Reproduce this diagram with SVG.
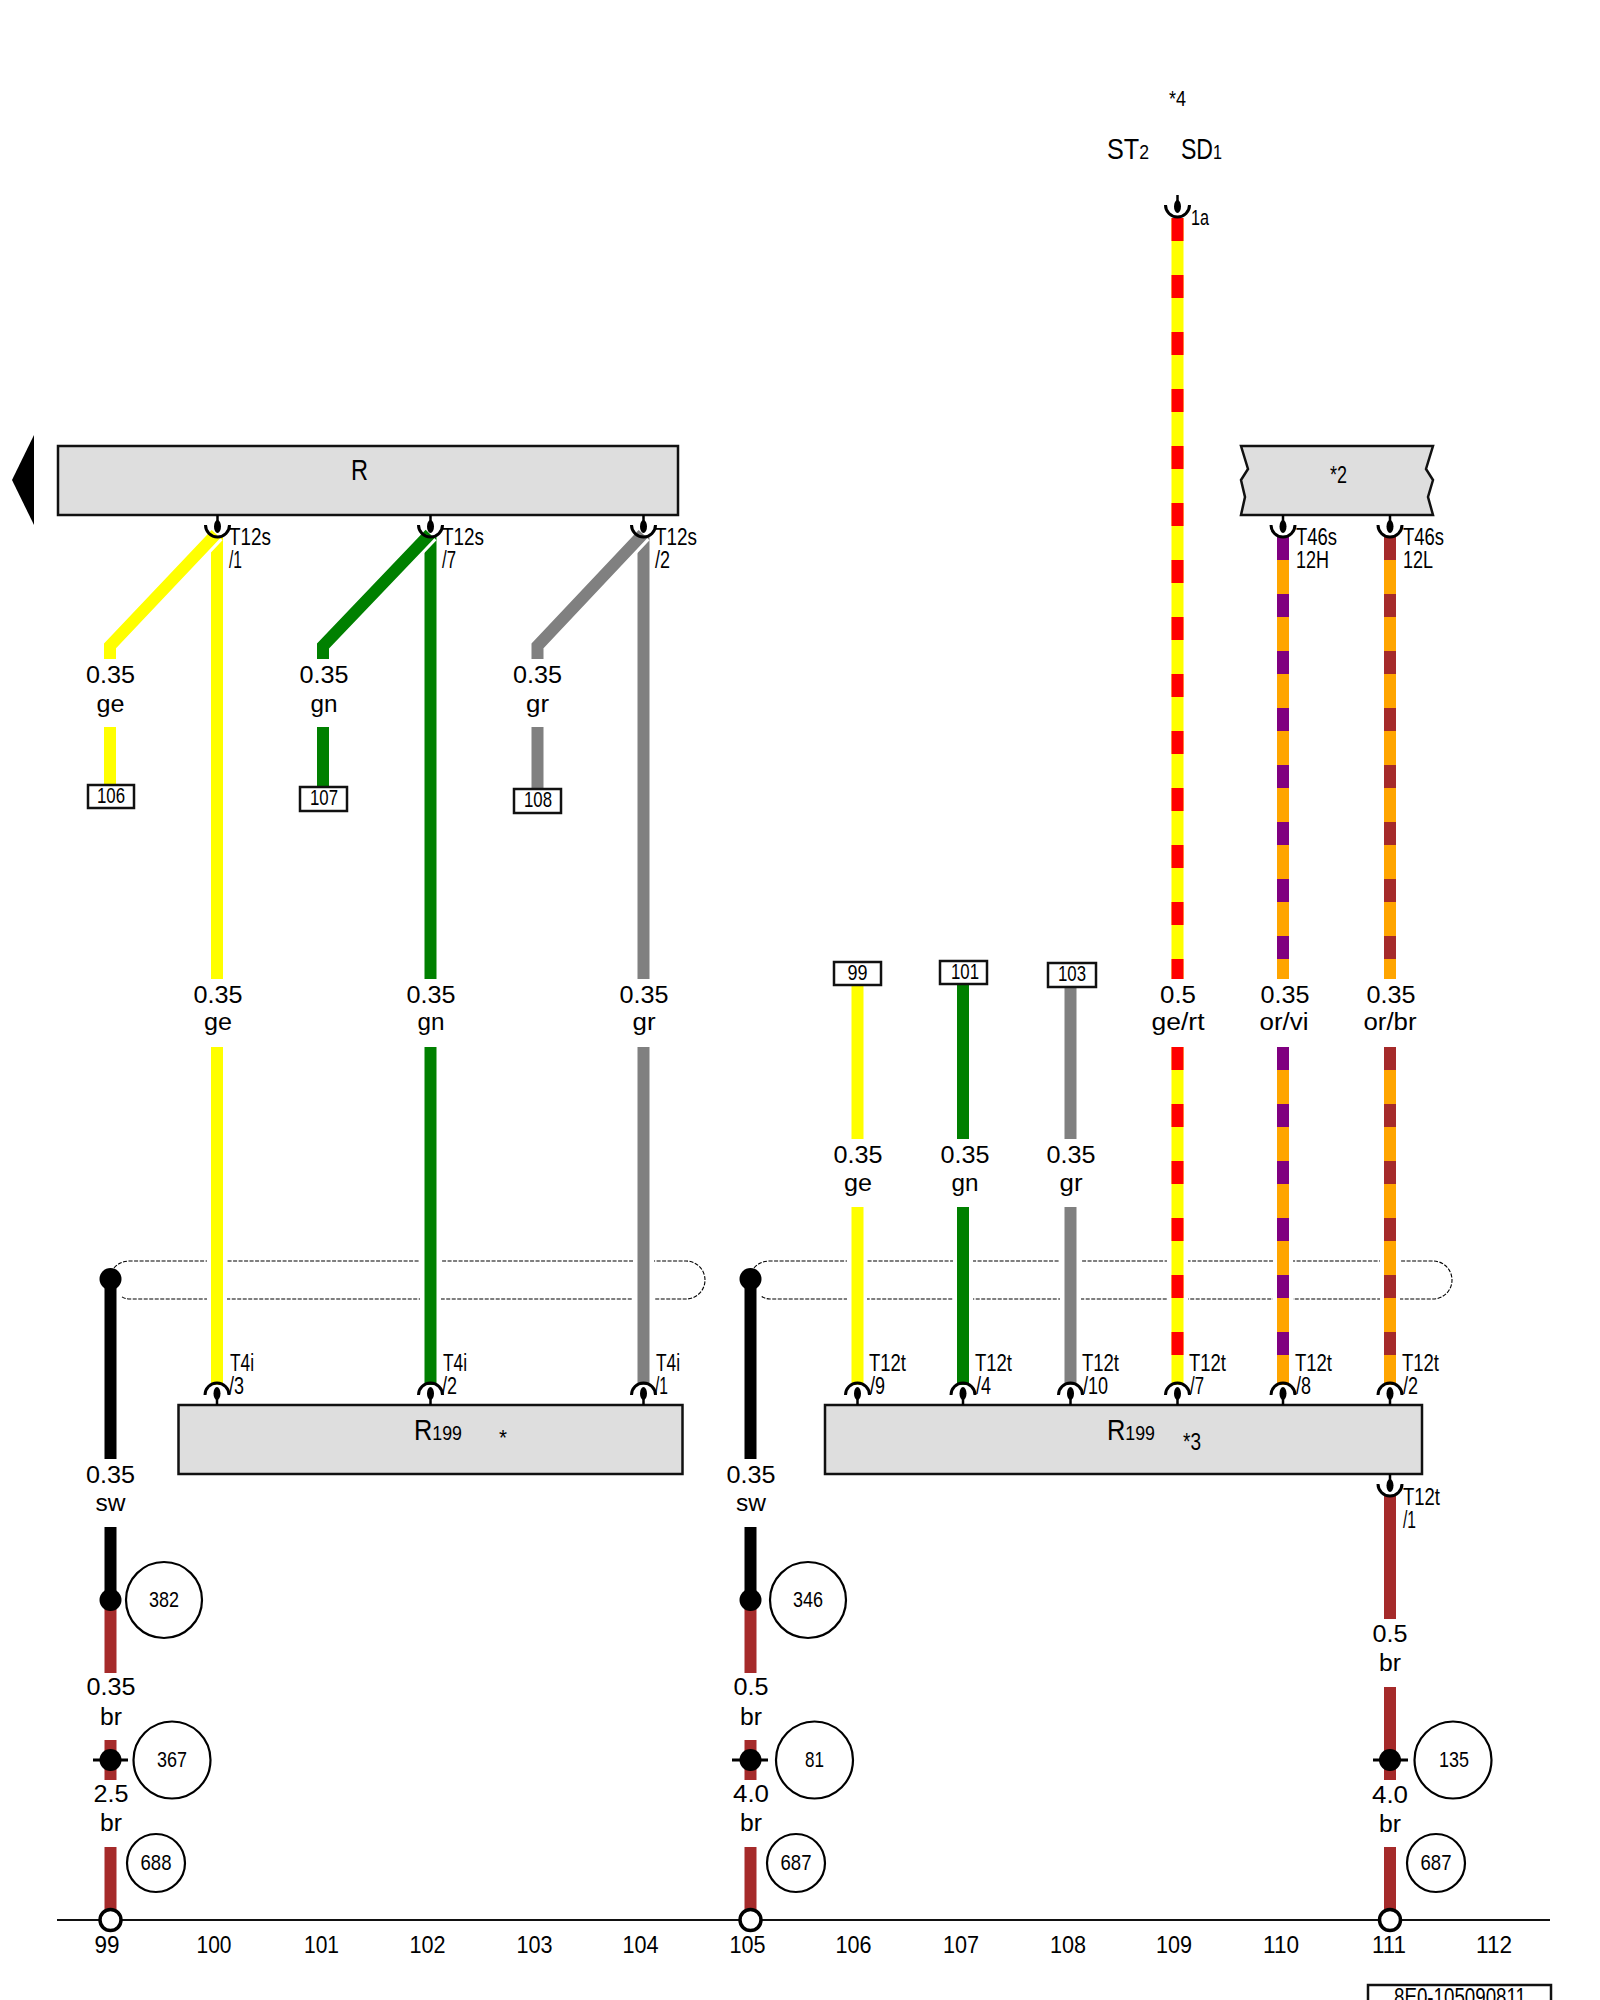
<svg xmlns="http://www.w3.org/2000/svg" xmlns:xlink="http://www.w3.org/1999/xlink" width="1600" height="2000" viewBox="0 0 1600 2000">
<style>
text{font-family:"Liberation Sans",Arial,sans-serif;fill:#000;font-size:23px}
.m{text-anchor:middle}
.s{font-size:22.500px}
.c{font-size:23.500px}
.big{font-size:30px}
.sub{font-size:21px}
.box{fill:#dedede;stroke:#111;stroke-width:2.5}
.ref{fill:#fff;stroke:#111;stroke-width:2.5}
.circ{fill:#fff;stroke:#000;stroke-width:2.2}
.w{fill:none;stroke-width:12}
.y{stroke:#ffff00}.g{stroke:#008000}.a{stroke:#808080}.k{stroke:#000}.b{stroke:#a52a2a}.o{stroke:#ffa500}
.r{stroke:#ff0000;stroke-dasharray:23 34}
.v{stroke:#800080;stroke-dasharray:23 34}
.n{stroke:#a52a2a;stroke-dasharray:23 34}
.halo{fill:none;stroke:#fff;stroke-width:18}
.sh{fill:none;stroke:#000;stroke-width:1.1;stroke-dasharray:4 1.5}
.gap{fill:#fff}
</style>
<defs>
<g id="pin">
<path d="M0 0V8" stroke="#000" stroke-width="2.5"/>
<ellipse cx="0" cy="11.5" rx="3.5" ry="6.5" fill="#000"/>
<path d="M-12 10A12 12 0 0 0 12 10" fill="none" stroke="#000" stroke-width="3"/>
</g>
</defs>
<rect width="1600" height="2000" fill="#fff"/>

<g id="shields">
<path class="sh" d="M114 1268Q120 1261 130 1261L686 1261A19 19 0 0 1 686 1299L130 1299Q124 1299 121 1296"/>
<path class="sh" d="M754 1268Q760 1261 770 1261L1433 1261A19 19 0 0 1 1433 1299L770 1299Q765 1299 761 1296"/>
<rect class="gap" x="207" y="1255" width="20" height="50"/>
<rect class="gap" x="420" y="1255" width="21" height="50"/>
<rect class="gap" x="633" y="1255" width="21" height="50"/>
<rect class="gap" x="847" y="1255" width="20" height="50"/>
<rect class="gap" x="953" y="1255" width="20" height="50"/>
<rect class="gap" x="1060" y="1255" width="21" height="50"/>
<rect class="gap" x="1167" y="1255" width="21" height="50"/>
<rect class="gap" x="1273" y="1255" width="20" height="50"/>
<rect class="gap" x="1380" y="1255" width="20" height="50"/>
</g>

<g id="connectors">
<path class="w y" d="M217 537V979M217 1047V1385"/>
<path class="w g" d="M430.500 537V979M430.500 1047V1385"/>
<path class="w a" d="M643.500 537V979M643.500 1047V1385"/>
<path class="halo" d="M216 534L110 646V659"/>
<path class="halo" d="M430 534L323 646V659"/>
<path class="halo" d="M643 534L537.500 646V659"/>
<path class="w y" d="M216 534L110 646V659M110 727V786"/>
<path class="w g" d="M430 534L323 646V659M323 727V788"/>
<path class="w a" d="M643 534L537.500 646V659M537.500 727V790"/>
<path class="w y" d="M857.500 985V1139M857.500 1207V1385"/>
<path class="w g" d="M963 984V1139M963 1207V1385"/>
<path class="w a" d="M1070.500 987V1139M1070.500 1207V1385"/>
<path class="w y" d="M1177.500 218V979M1177.500 1047V1385"/>
<path class="w r" d="M1177.500 218V979M1177.500 1047V1385"/>
<path class="w o" d="M1283 537V979M1283 1047V1385"/>
<path class="w v" d="M1283 537V979M1283 1047V1385"/>
<path class="w o" d="M1390 537V979M1390 1047V1385"/>
<path class="w n" d="M1390 537V979M1390 1047V1385"/>
<path class="w k" d="M110.500 1279V1459M110.500 1527V1600"/>
<path class="w k" d="M750.500 1279V1459M750.500 1527V1600"/>
<path class="w b" d="M110.500 1600V1673M110.500 1740V1780M110.500 1847V1920"/>
<path class="w b" d="M750.500 1600V1673M750.500 1740V1780M750.500 1847V1920"/>
<path class="w b" d="M1390 1496V1619M1390 1687V1780M1390 1847V1920"/>
<path d="M57 1920H1550" stroke="#111" stroke-width="2.2" fill="none"/>
</g>

<g id="node-R">
<path d="M12 480L34 435V525Z" fill="#000"/>
<rect class="box" x="58" y="446" width="620" height="69"/>
<text class="big" x="351" y="480" textLength="17" lengthAdjust="spacingAndGlyphs">R</text>
</g>
<g id="node-star2">
<path class="box" d="M1241 446L1248 469L1241 480L1245 497L1241 515H1433L1428 497L1433 480L1426 469L1433 446Z"/>
<text class="c" x="1330" y="483" textLength="17" lengthAdjust="spacingAndGlyphs">*2</text>
</g>
<g id="node-R199a">
<rect class="box" x="178.500" y="1405" width="504" height="69"/>
<text class="big" x="414" y="1440" textLength="48" lengthAdjust="spacingAndGlyphs">R<tspan class="sub">199</tspan></text>
<text class="s" x="499" y="1445" textLength="8" lengthAdjust="spacingAndGlyphs">*</text>
</g>
<g id="node-R199b">
<rect class="box" x="825" y="1405" width="597" height="69"/>
<text class="big" x="1107" y="1440" textLength="48" lengthAdjust="spacingAndGlyphs">R<tspan class="sub">199</tspan></text>
<text class="c" x="1183" y="1450" textLength="18" lengthAdjust="spacingAndGlyphs">*3</text>
</g>
<g id="node-top">
<text class="s" x="1169" y="106" textLength="17" lengthAdjust="spacingAndGlyphs">*4</text>
<text class="big" x="1107" y="159" textLength="42" lengthAdjust="spacingAndGlyphs">ST<tspan class="sub">2</tspan></text>
<text class="big" x="1181" y="159" textLength="41" lengthAdjust="spacingAndGlyphs">SD<tspan class="sub">1</tspan></text>
<use xlink:href="#pin" href="#pin" x="1177.500" y="195"/>
<text class="s" x="1191" y="225" textLength="18" lengthAdjust="spacingAndGlyphs">1a</text>
</g>

<g id="pins-top">
<use href="#pin" x="217.500" y="515"/>
<use href="#pin" x="430.500" y="515"/>
<use href="#pin" x="643.500" y="515"/>
<use href="#pin" x="1283" y="515"/>
<use href="#pin" x="1390" y="515"/>
<use href="#pin" x="1390" y="1474"/>
</g>
<g id="pins-bottom">
<use href="#pin" transform="translate(217,1405) scale(1,-1)"/>
<use href="#pin" transform="translate(430.500,1405) scale(1,-1)"/>
<use href="#pin" transform="translate(643.500,1405) scale(1,-1)"/>
<use href="#pin" transform="translate(857.500,1405) scale(1,-1)"/>
<use href="#pin" transform="translate(963,1405) scale(1,-1)"/>
<use href="#pin" transform="translate(1070.500,1405) scale(1,-1)"/>
<use href="#pin" transform="translate(1177.500,1405) scale(1,-1)"/>
<use href="#pin" transform="translate(1283,1405) scale(1,-1)"/>
<use href="#pin" transform="translate(1390,1405) scale(1,-1)"/>
</g>

<g id="pin-labels">
<text class="c" x="229" y="545" textLength="42" lengthAdjust="spacingAndGlyphs">T12s</text><text class="c" x="229" y="568" textLength="13" lengthAdjust="spacingAndGlyphs">/1</text>
<text class="c" x="442" y="545" textLength="42" lengthAdjust="spacingAndGlyphs">T12s</text><text class="c" x="442" y="568" textLength="14" lengthAdjust="spacingAndGlyphs">/7</text>
<text class="c" x="655" y="545" textLength="42" lengthAdjust="spacingAndGlyphs">T12s</text><text class="c" x="655" y="568" textLength="15" lengthAdjust="spacingAndGlyphs">/2</text>
<text class="c" x="1296" y="545" textLength="41" lengthAdjust="spacingAndGlyphs">T46s</text><text class="c" x="1296" y="568" textLength="33" lengthAdjust="spacingAndGlyphs">12H</text>
<text class="c" x="1403" y="545" textLength="41" lengthAdjust="spacingAndGlyphs">T46s</text><text class="c" x="1403" y="568" textLength="30" lengthAdjust="spacingAndGlyphs">12L</text>
<text class="c" x="230" y="1371" textLength="24" lengthAdjust="spacingAndGlyphs">T4i</text><text class="c" x="229" y="1394" textLength="15" lengthAdjust="spacingAndGlyphs">/3</text>
<text class="c" x="443" y="1371" textLength="24" lengthAdjust="spacingAndGlyphs">T4i</text><text class="c" x="442" y="1394" textLength="15" lengthAdjust="spacingAndGlyphs">/2</text>
<text class="c" x="656" y="1371" textLength="24" lengthAdjust="spacingAndGlyphs">T4i</text><text class="c" x="655" y="1394" textLength="13" lengthAdjust="spacingAndGlyphs">/1</text>
<text class="c" x="869" y="1371" textLength="37" lengthAdjust="spacingAndGlyphs">T12t</text><text class="c" x="870" y="1394" textLength="15" lengthAdjust="spacingAndGlyphs">/9</text>
<text class="c" x="975" y="1371" textLength="37" lengthAdjust="spacingAndGlyphs">T12t</text><text class="c" x="976" y="1394" textLength="15" lengthAdjust="spacingAndGlyphs">/4</text>
<text class="c" x="1082" y="1371" textLength="37" lengthAdjust="spacingAndGlyphs">T12t</text><text class="c" x="1083" y="1394" textLength="25" lengthAdjust="spacingAndGlyphs">/10</text>
<text class="c" x="1189" y="1371" textLength="37" lengthAdjust="spacingAndGlyphs">T12t</text><text class="c" x="1190" y="1394" textLength="14" lengthAdjust="spacingAndGlyphs">/7</text>
<text class="c" x="1295" y="1371" textLength="37" lengthAdjust="spacingAndGlyphs">T12t</text><text class="c" x="1296" y="1394" textLength="15" lengthAdjust="spacingAndGlyphs">/8</text>
<text class="c" x="1402" y="1371" textLength="37" lengthAdjust="spacingAndGlyphs">T12t</text><text class="c" x="1403" y="1394" textLength="15" lengthAdjust="spacingAndGlyphs">/2</text>
<text class="c" x="1403" y="1505" textLength="37" lengthAdjust="spacingAndGlyphs">T12t</text><text class="c" x="1403" y="1528" textLength="13" lengthAdjust="spacingAndGlyphs">/1</text>
</g>

<g id="wire-labels">
<text class="m" x="110.500" y="683" textLength="49" lengthAdjust="spacingAndGlyphs">0.35</text><text class="m" x="110.500" y="712" textLength="28" lengthAdjust="spacingAndGlyphs">ge</text>
<text class="m" x="324" y="683" textLength="49" lengthAdjust="spacingAndGlyphs">0.35</text><text class="m" x="324" y="712" textLength="27" lengthAdjust="spacingAndGlyphs">gn</text>
<text class="m" x="537.500" y="683" textLength="49" lengthAdjust="spacingAndGlyphs">0.35</text><text class="m" x="537.500" y="712" textLength="23" lengthAdjust="spacingAndGlyphs">gr</text>
<text class="m" x="218" y="1003" textLength="49" lengthAdjust="spacingAndGlyphs">0.35</text><text class="m" x="218" y="1030" textLength="28" lengthAdjust="spacingAndGlyphs">ge</text>
<text class="m" x="431" y="1003" textLength="49" lengthAdjust="spacingAndGlyphs">0.35</text><text class="m" x="431" y="1030" textLength="27" lengthAdjust="spacingAndGlyphs">gn</text>
<text class="m" x="644" y="1003" textLength="49" lengthAdjust="spacingAndGlyphs">0.35</text><text class="m" x="644" y="1030" textLength="23" lengthAdjust="spacingAndGlyphs">gr</text>
<text class="m" x="858" y="1163" textLength="49" lengthAdjust="spacingAndGlyphs">0.35</text><text class="m" x="858" y="1191" textLength="28" lengthAdjust="spacingAndGlyphs">ge</text>
<text class="m" x="965" y="1163" textLength="49" lengthAdjust="spacingAndGlyphs">0.35</text><text class="m" x="965" y="1191" textLength="27" lengthAdjust="spacingAndGlyphs">gn</text>
<text class="m" x="1071" y="1163" textLength="49" lengthAdjust="spacingAndGlyphs">0.35</text><text class="m" x="1071" y="1191" textLength="23" lengthAdjust="spacingAndGlyphs">gr</text>
<text class="m" x="1178" y="1003" textLength="36" lengthAdjust="spacingAndGlyphs">0.5</text><text class="m" x="1178" y="1030" textLength="53" lengthAdjust="spacingAndGlyphs">ge/rt</text>
<text class="m" x="1285" y="1003" textLength="49" lengthAdjust="spacingAndGlyphs">0.35</text><text class="m" x="1284" y="1030" textLength="49" lengthAdjust="spacingAndGlyphs">or/vi</text>
<text class="m" x="1391" y="1003" textLength="49" lengthAdjust="spacingAndGlyphs">0.35</text><text class="m" x="1390" y="1030" textLength="53" lengthAdjust="spacingAndGlyphs">or/br</text>
<text class="m" x="110.500" y="1483" textLength="49" lengthAdjust="spacingAndGlyphs">0.35</text><text class="m" x="110.500" y="1511" textLength="30" lengthAdjust="spacingAndGlyphs">sw</text>
<text class="m" x="751" y="1483" textLength="49" lengthAdjust="spacingAndGlyphs">0.35</text><text class="m" x="751" y="1511" textLength="30" lengthAdjust="spacingAndGlyphs">sw</text>
<text class="m" x="111" y="1695" textLength="49" lengthAdjust="spacingAndGlyphs">0.35</text><text class="m" x="111" y="1725" textLength="22" lengthAdjust="spacingAndGlyphs">br</text>
<text class="m" x="751" y="1695" textLength="35" lengthAdjust="spacingAndGlyphs">0.5</text><text class="m" x="751" y="1725" textLength="22" lengthAdjust="spacingAndGlyphs">br</text>
<text class="m" x="1390" y="1642" textLength="35" lengthAdjust="spacingAndGlyphs">0.5</text><text class="m" x="1390" y="1671" textLength="22" lengthAdjust="spacingAndGlyphs">br</text>
<text class="m" x="111" y="1802" textLength="35" lengthAdjust="spacingAndGlyphs">2.5</text><text class="m" x="111" y="1831" textLength="22" lengthAdjust="spacingAndGlyphs">br</text>
<text class="m" x="751" y="1802" textLength="36" lengthAdjust="spacingAndGlyphs">4.0</text><text class="m" x="751" y="1831" textLength="22" lengthAdjust="spacingAndGlyphs">br</text>
<text class="m" x="1390" y="1803" textLength="36" lengthAdjust="spacingAndGlyphs">4.0</text><text class="m" x="1390" y="1832" textLength="22" lengthAdjust="spacingAndGlyphs">br</text>
</g>

<g id="refs">
<g id="ref-106"><rect class="ref" x="88" y="785" width="46" height="23"/><text class="s m" x="111" y="803" textLength="28" lengthAdjust="spacingAndGlyphs">106</text></g>
<g id="ref-107"><rect class="ref" x="300" y="787" width="47" height="24"/><text class="s m" x="324" y="805" textLength="28" lengthAdjust="spacingAndGlyphs">107</text></g>
<g id="ref-108"><rect class="ref" x="514" y="789" width="47" height="24"/><text class="s m" x="538" y="807" textLength="28" lengthAdjust="spacingAndGlyphs">108</text></g>
<g id="ref-99"><rect class="ref" x="834" y="962" width="47" height="23"/><text class="s m" x="857.500" y="980" textLength="20" lengthAdjust="spacingAndGlyphs">99</text></g>
<g id="ref-101"><rect class="ref" x="940" y="961" width="47" height="23"/><text class="s m" x="965" y="979" textLength="28" lengthAdjust="spacingAndGlyphs">101</text></g>
<g id="ref-103"><rect class="ref" x="1048" y="963" width="48" height="24"/><text class="s m" x="1072" y="981" textLength="28" lengthAdjust="spacingAndGlyphs">103</text></g>
</g>

<g id="junctions">
<ellipse cx="110.500" cy="1279" rx="11" ry="11"/>
<ellipse cx="750.500" cy="1279" rx="11" ry="11"/>
<circle cx="110.500" cy="1600" r="11"/>
<circle cx="750.500" cy="1600" r="11"/>
<g stroke="#000" stroke-width="3">
<path d="M93 1760H128M732 1760H768M1373 1760H1408"/>
</g>
<circle cx="110.500" cy="1760" r="11"/>
<circle cx="750.500" cy="1760" r="11"/>
<circle cx="1390" cy="1760" r="11"/>
<g fill="#fff" stroke="#000" stroke-width="3.500">
<circle cx="110.500" cy="1920" r="10.500"/>
<circle cx="750.500" cy="1920" r="10.500"/>
<circle cx="1390" cy="1920" r="10.500"/>
</g>
</g>

<g id="callouts">
<g id="c382"><circle class="circ" cx="164" cy="1600" r="38"/><text class="s m" x="164" y="1607" textLength="30" lengthAdjust="spacingAndGlyphs">382</text></g>
<g id="c346"><circle class="circ" cx="808" cy="1600" r="38"/><text class="s m" x="808" y="1607" textLength="30" lengthAdjust="spacingAndGlyphs">346</text></g>
<g id="c367"><circle class="circ" cx="172" cy="1760" r="38.500"/><text class="s m" x="172" y="1767" textLength="30" lengthAdjust="spacingAndGlyphs">367</text></g>
<g id="c81"><circle class="circ" cx="814.500" cy="1760" r="38.500"/><text class="s m" x="814.500" y="1767" textLength="19" lengthAdjust="spacingAndGlyphs">81</text></g>
<g id="c135"><circle class="circ" cx="1453" cy="1760" r="38.500"/><text class="s m" x="1454" y="1767" textLength="30" lengthAdjust="spacingAndGlyphs">135</text></g>
<g id="c688"><circle class="circ" cx="156" cy="1863" r="29"/><text class="s m" x="156" y="1870" textLength="31" lengthAdjust="spacingAndGlyphs">688</text></g>
<g id="c687a"><circle class="circ" cx="796" cy="1863" r="29"/><text class="s m" x="796" y="1870" textLength="31" lengthAdjust="spacingAndGlyphs">687</text></g>
<g id="c687b"><circle class="circ" cx="1436" cy="1863" r="29"/><text class="s m" x="1436" y="1870" textLength="31" lengthAdjust="spacingAndGlyphs">687</text></g>
</g>

<g id="scale">
<text class="m" x="107" y="1953" textLength="25" lengthAdjust="spacingAndGlyphs">99</text>
<text class="m" x="214" y="1953" textLength="35" lengthAdjust="spacingAndGlyphs">100</text>
<text class="m" x="321.500" y="1953" textLength="35" lengthAdjust="spacingAndGlyphs">101</text>
<text class="m" x="427.500" y="1953" textLength="36" lengthAdjust="spacingAndGlyphs">102</text>
<text class="m" x="534.500" y="1953" textLength="36" lengthAdjust="spacingAndGlyphs">103</text>
<text class="m" x="640.500" y="1953" textLength="36" lengthAdjust="spacingAndGlyphs">104</text>
<text class="m" x="747.500" y="1953" textLength="36" lengthAdjust="spacingAndGlyphs">105</text>
<text class="m" x="853.500" y="1953" textLength="36" lengthAdjust="spacingAndGlyphs">106</text>
<text class="m" x="961" y="1953" textLength="36" lengthAdjust="spacingAndGlyphs">107</text>
<text class="m" x="1068" y="1953" textLength="36" lengthAdjust="spacingAndGlyphs">108</text>
<text class="m" x="1174" y="1953" textLength="36" lengthAdjust="spacingAndGlyphs">109</text>
<text class="m" x="1281" y="1953" textLength="36" lengthAdjust="spacingAndGlyphs">110</text>
<text class="m" x="1389" y="1953" textLength="34" lengthAdjust="spacingAndGlyphs">111</text>
<text class="m" x="1494" y="1953" textLength="36" lengthAdjust="spacingAndGlyphs">112</text>
</g>

<g id="title">
<rect fill="#fff" stroke="#111" stroke-width="2.500" x="1368" y="1985" width="183" height="30"/>
<text class="m" x="1460" y="2005" textLength="132" lengthAdjust="spacingAndGlyphs">8E0-105090811</text>
</g>
</svg>
